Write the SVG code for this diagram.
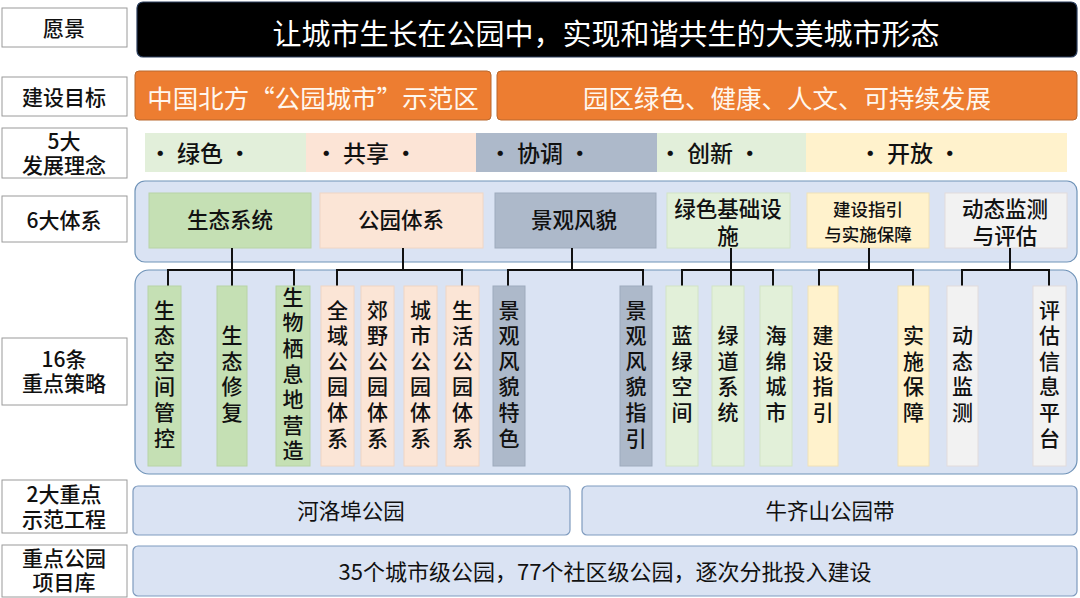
<svg xmlns="http://www.w3.org/2000/svg" width="1080" height="598" viewBox="0 0 1080 598">
<style>
text{font-family:"Noto Sans CJK SC","Noto Sans",sans-serif;text-anchor:middle;dominant-baseline:central;}
.lbl rect{fill:#fff;stroke:#9a9a9a;stroke-width:1;}
.lbl text{font-size:21px;font-weight:500;fill:#111;}
.dk{fill:#111;font-weight:500;}
.sy{font-size:21.5px;}
.g1{fill:#c5e0b4;stroke:#b8d4a6;}
.g2{fill:#fbe5d6;stroke:#f0d6c4;}
.g3{fill:#adb9ca;stroke:#9eabbd;}
.g4{fill:#e2f0d9;stroke:#d2e4c6;}
.g5{fill:#fff2cc;stroke:#f0e2b8;}
.g6{fill:#f2f2f2;stroke:#e2dcdc;}
.cont{fill:#dae3f3;stroke:#6f93b8;stroke-width:1.2;}
.bot{fill:#dae3f3;stroke:#7f9bbf;stroke-width:1.2;}
.bt{font-size:21.5px;font-weight:400;fill:#111;}
.orange{fill:#ed7d31;stroke:#b9692f;stroke-width:1;}
.ot{font-size:25.5px;fill:#fff7ee;}
.ct{font-size:23px;}
.st text{font-size:21px;fill:#111;font-weight:500;writing-mode:vertical-rl;letter-spacing:4.6px;dominant-baseline:auto;}
.conn{stroke:#111;stroke-width:2;fill:none;}
</style>

<!-- left labels -->
<g id="label-vision" class="lbl"><rect x="2" y="8" width="125" height="39"/><text x="64" y="27">愿景</text></g>
<g id="label-goal" class="lbl"><rect x="2" y="77" width="125" height="39"/><text x="64" y="96">建设目标</text></g>
<g id="label-concept" class="lbl"><rect x="2" y="128" width="125" height="50"/><text x="64" y="140">5大<tspan x="64" dy="24">发展理念</tspan></text></g>
<g id="label-system" class="lbl"><rect x="2" y="196" width="125" height="46"/><text x="64" y="219">6大体系</text></g>
<g id="label-strategy" class="lbl"><rect x="2" y="338" width="125" height="67"/><text x="64" y="358">16条<tspan x="64" dy="24">重点策略</tspan></text></g>
<g id="label-demo" class="lbl"><rect x="2" y="480" width="125" height="53"/><text x="64" y="493">2大重点<tspan x="64" dy="25">示范工程</tspan></text></g>
<g id="label-lib" class="lbl"><rect x="2" y="545" width="125" height="52"/><text x="64" y="557">重点公园<tspan x="64" dy="24">项目库</tspan></text></g>

<!-- vision -->
<g id="vision"><rect x="137" y="2" width="940" height="55" rx="6" fill="#000" stroke="#2a3d5c" stroke-width="1.2"/><text x="606" y="32" style="font-size:29px;fill:#fff">让城市生长在公园中，实现和谐共生的大美城市形态</text></g>

<!-- goals -->
<g id="goal-1"><rect class="orange" x="135" y="71" width="356" height="49" rx="4"/><text class="ot" x="313" y="96">中国北方“公园城市”示范区</text></g>
<g id="goal-2"><rect class="orange" x="497" y="71" width="580" height="49" rx="4"/><text class="ot" x="787" y="96">园区绿色、健康、人文、可持续发展</text></g>

<!-- concepts -->
<g id="concepts">
<rect x="145" y="133" width="161" height="39" fill="#e2efda"/>
<rect x="306" y="133" width="170" height="39" fill="#fce4d6"/>
<rect x="476" y="133" width="181" height="39" fill="#adb9ca"/>
<rect x="657" y="133" width="149" height="39" fill="#e2efda"/>
<rect x="806" y="133" width="261" height="39" fill="#fff2cc"/>
<text class="dk ct" x="200" y="152">· 绿色 ·</text>
<text class="dk ct" x="366" y="152">· 共享 ·</text>
<text class="dk ct" x="540" y="152">· 协调 ·</text>
<text class="dk ct" x="710" y="152">· 创新 ·</text>
<text class="dk ct" x="910" y="152">· 开放 ·</text>
</g>

<!-- containers -->
<rect class="cont" x="135" y="181" width="942" height="81" rx="10"/>
<rect class="cont" x="135" y="270" width="942" height="204" rx="14"/>

<!-- systems -->
<g id="sys-eco"><rect class="g1" x="149" y="193" width="162" height="55"/><text class="dk sy" x="230" y="218">生态系统</text></g>
<g id="sys-park"><rect class="g2" x="320" y="193" width="163" height="55"/><text class="dk sy" x="401" y="218">公园体系</text></g>
<g id="sys-land"><rect class="g3" x="495" y="193" width="161" height="55"/><text class="dk sy" x="574" y="218">景观风貌</text></g>
<g id="sys-green"><rect class="g4" x="667" y="193" width="123" height="55"/><text class="dk sy" x="728" y="207">绿色基础设<tspan x="728" dy="26.5">施</tspan></text></g>
<g id="sys-guide"><rect class="g5" x="807" y="193" width="122" height="55"/><text class="dk" x="868" y="208.5" style="font-size:17.5px">建设指引<tspan x="868" dy="24">与实施保障</tspan></text></g>
<g id="sys-mon"><rect class="g6" x="945" y="193" width="122" height="55"/><text class="dk sy" x="1005" y="207">动态监测<tspan x="1005" dy="26.5">与评估</tspan></text></g>

<!-- connectors -->
<g id="connectors" class="conn">
<path d="M232 248V286M168 286V270H294V286"/>
<path d="M403 248V270M337 286V270H462V286"/>
<path d="M572 248V270M508 286V270H643V286"/>
<path d="M731 248V286M682 286V270H773V286"/>
<path d="M869 248V270M819 286V270H913V286"/>
<path d="M1010 248V270M962 286V270H1049V286"/>
</g>

<!-- strategies -->
<g id="st-1" class="st"><rect class="g1" x="148" y="286" width="33" height="180"/><text x="164.5" y="376">生态空间管控</text></g>
<g id="st-2" class="st"><rect class="g1" x="217" y="286" width="30" height="180"/><text x="232" y="376">生态修复</text></g>
<g id="st-3" class="st"><rect class="g1" x="276" y="286" width="34" height="180"/><text x="293" y="376">生物栖息地营造</text></g>
<g id="st-4" class="st"><rect class="g2" x="321" y="286" width="33" height="180"/><text x="337.5" y="376">全域公园体系</text></g>
<g id="st-5" class="st"><rect class="g2" x="361" y="286" width="33" height="180"/><text x="377.5" y="376">郊野公园体系</text></g>
<g id="st-6" class="st"><rect class="g2" x="404" y="286" width="33" height="180"/><text x="420.5" y="376">城市公园体系</text></g>
<g id="st-7" class="st"><rect class="g2" x="446" y="286" width="33" height="180"/><text x="462.5" y="376">生活公园体系</text></g>
<g id="st-8" class="st"><rect class="g3" x="493" y="286" width="32" height="180"/><text x="509" y="376">景观风貌特色</text></g>
<g id="st-9" class="st"><rect class="g3" x="620" y="286" width="32" height="180"/><text x="636" y="376">景观风貌指引</text></g>
<g id="st-10" class="st"><rect class="g4" x="666" y="286" width="32" height="180"/><text x="682" y="376">蓝绿空间</text></g>
<g id="st-11" class="st"><rect class="g4" x="712" y="286" width="32" height="180"/><text x="728" y="376">绿道系统</text></g>
<g id="st-12" class="st"><rect class="g4" x="760" y="286" width="32" height="180"/><text x="776" y="376">海绵城市</text></g>
<g id="st-13" class="st"><rect class="g5" x="808" y="286" width="30" height="180"/><text x="823" y="376">建设指引</text></g>
<g id="st-14" class="st"><rect class="g5" x="898" y="286" width="31" height="180"/><text x="913.5" y="376">实施保障</text></g>
<g id="st-15" class="st"><rect class="g6" x="947" y="286" width="31" height="180"/><text x="962.5" y="376">动态监测</text></g>
<g id="st-16" class="st"><rect class="g6" x="1033" y="286" width="33" height="180"/><text x="1049.5" y="376">评估信息平台</text></g>

<!-- demo projects -->
<g id="demo-1"><rect class="bot" x="133" y="486" width="437" height="49" rx="5"/><text class="bt" x="351" y="509">河洛埠公园</text></g>
<g id="demo-2"><rect class="bot" x="582" y="486" width="495" height="49" rx="5"/><text class="bt" x="830" y="509">牛齐山公园带</text></g>
<g id="library"><rect class="bot" x="133" y="546" width="944" height="50" rx="5"/><text class="bt" x="605" y="570" style="font-size:22px">35个城市级公园，77个社区级公园，逐次分批投入建设</text></g>
</svg>
